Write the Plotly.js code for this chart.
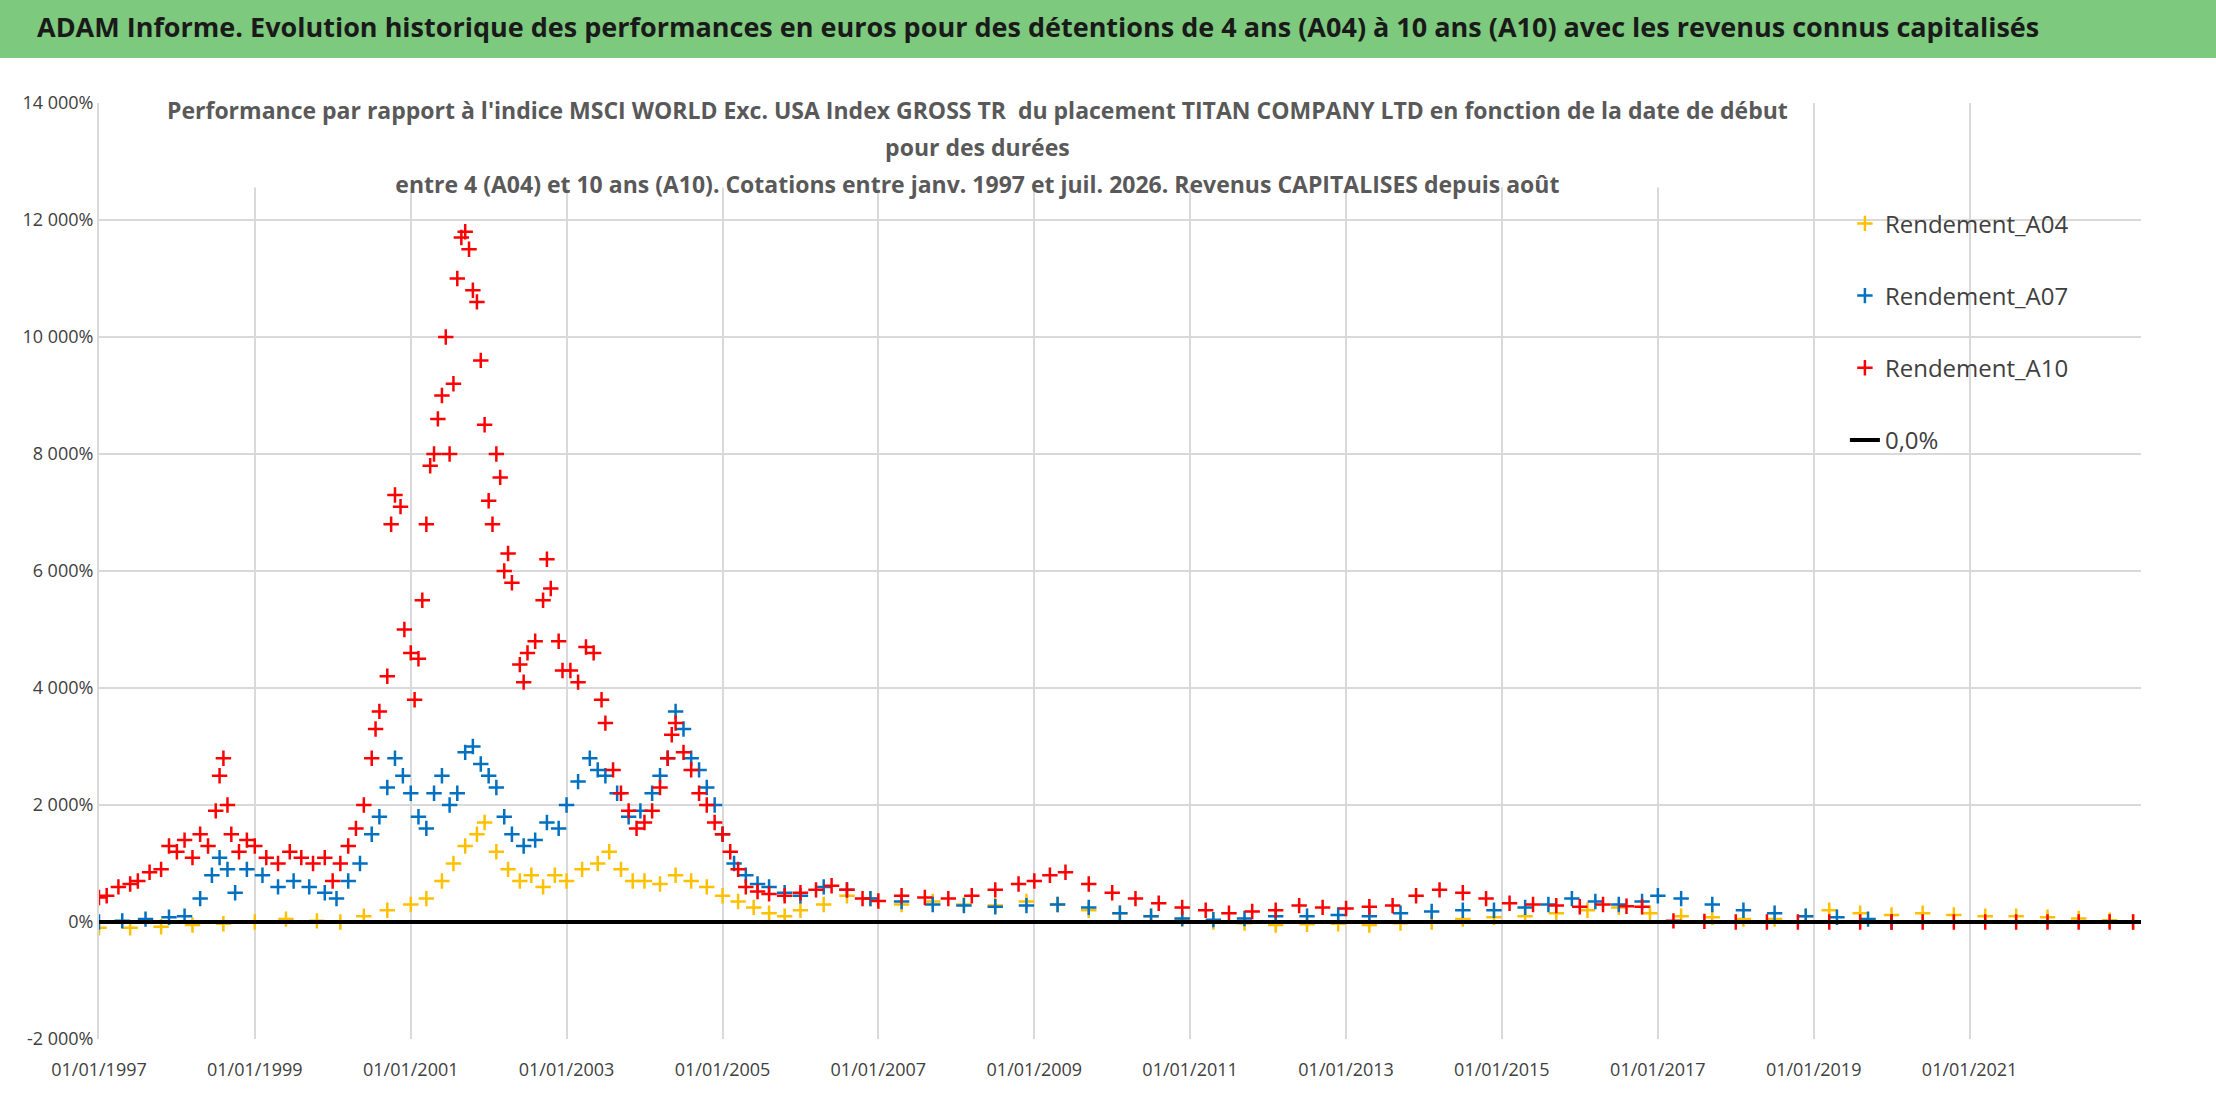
<!DOCTYPE html>
<html>
<head>
<meta charset="utf-8">
<script src="https://cdn.plot.ly/plotly-3.0.1.min.js"></script>
<style>body{margin:0;background:#fff}#chart{width:2216px;height:1102px}</style>
</head>
<body>
<div id="chart"></div>
<script>
// decimal years and performance values (%)
var yearsA10 = [1997.0,1997.1,1997.25,1997.4,1997.5,1997.65,1997.8,1997.9,1998.0,1998.1,1998.2,1998.3,1998.4,1998.5,1998.55,1998.6,1998.65,1998.7,1998.8,1998.9,1999.0,1999.15,1999.3,1999.45,1999.6,1999.75,1999.9,2000.0,2000.1,2000.2,2000.3,2000.4,2000.5,2000.55,2000.6,2000.7,2000.75,2000.8,2000.87,2000.92,2001.0,2001.05,2001.1,2001.15,2001.2,2001.25,2001.3,2001.35,2001.4,2001.45,2001.5,2001.55,2001.6,2001.65,2001.7,2001.75,2001.8,2001.85,2001.9,2001.95,2002.0,2002.05,2002.1,2002.15,2002.2,2002.25,2002.3,2002.4,2002.45,2002.5,2002.6,2002.7,2002.75,2002.8,2002.9,2002.95,2003.05,2003.15,2003.25,2003.35,2003.45,2003.5,2003.6,2003.7,2003.8,2003.9,2004.0,2004.1,2004.2,2004.3,2004.35,2004.4,2004.5,2004.6,2004.7,2004.8,2004.9,2005.0,2005.1,2005.2,2005.3,2005.45,2005.6,2005.8,2006.0,2006.2,2006.4,2006.6,2006.8,2007.0,2007.3,2007.6,2007.9,2008.2,2008.5,2008.8,2009.0,2009.2,2009.4,2009.7,2010.0,2010.3,2010.6,2010.9,2011.2,2011.5,2011.8,2012.1,2012.4,2012.7,2013.0,2013.3,2013.6,2013.9,2014.2,2014.5,2014.8,2015.1,2015.4,2015.7,2016.0,2016.3,2016.6,2016.8,2017.2,2017.6,2018.0,2018.4,2018.8,2019.2,2019.6,2020.0,2020.4,2020.8,2021.2,2021.6,2022.0,2022.4,2022.8,2023.1];
var valsA10 = [420,450,600,650,700,850,900,1300,1200,1400,1100,1500,1300,1900,2500,2800,2000,1500,1200,1400,1300,1100,1000,1200,1100,1000,1100,700,1000,1300,1600,2000,2800,3300,3600,4200,6800,7300,7100,5000,4600,3800,4500,5500,6800,7800,8000,8600,9000,10000,8000,9200,11000,11700,11800,11500,10800,10600,9600,8500,7200,6800,8000,7600,6000,6300,5800,4400,4100,4600,4800,5500,6200,5700,4800,4300,4300,4100,4700,4600,3800,3400,2600,2200,1900,1600,1700,1900,2300,2800,3200,3400,2900,2600,2200,2000,1700,1500,1200,900,600,520,480,450,500,550,620,550,400,360,450,420,400,450,550,650,700,800,850,650,500,400,320,250,200,150,180,200,280,250,230,260,280,450,550,500,400,320,300,280,260,300,270,260,20,10,0,0,0,0,0,0,0,0,0,0,0,0,0,0];

var yearsA07 = [1997.0,1997.3,1997.6,1997.9,1998.1,1998.3,1998.45,1998.55,1998.65,1998.75,1998.9,1999.1,1999.3,1999.5,1999.7,1999.9,2000.05,2000.2,2000.35,2000.5,2000.6,2000.7,2000.8,2000.9,2001.0,2001.1,2001.2,2001.3,2001.4,2001.5,2001.6,2001.7,2001.8,2001.9,2002.0,2002.1,2002.2,2002.3,2002.45,2002.6,2002.75,2002.9,2003.0,2003.15,2003.3,2003.4,2003.5,2003.65,2003.8,2003.95,2004.1,2004.2,2004.3,2004.4,2004.5,2004.6,2004.7,2004.8,2004.9,2005.0,2005.15,2005.3,2005.45,2005.6,2005.8,2006.0,2006.3,2006.6,2006.9,2007.3,2007.7,2008.1,2008.5,2008.9,2009.3,2009.7,2010.1,2010.5,2010.9,2011.3,2011.7,2012.1,2012.5,2012.9,2013.3,2013.7,2014.1,2014.5,2014.9,2015.3,2015.6,2015.9,2016.2,2016.5,2016.8,2017.0,2017.3,2017.7,2018.1,2018.5,2018.9,2019.3,2019.7,2020.0];
var valsA07 = [0,20,50,80,100,400,800,1100,900,500,900,800,600,700,600,500,400,700,1000,1500,1800,2300,2800,2500,2200,1800,1600,2200,2500,2000,2200,2900,3000,2700,2500,2300,1800,1500,1300,1400,1700,1600,2000,2400,2800,2600,2500,2200,1800,1900,2200,2500,2800,3600,3300,2800,2600,2300,2000,1500,1000,800,650,600,500,450,600,550,400,350,300,280,260,280,300,250,150,100,60,40,60,100,100,120,100,150,180,200,200,250,300,400,350,300,350,450,400,300,200,150,100,80,50,0];

var yearsA04 = [1997.0,1997.4,1997.8,1998.2,1998.6,1999.0,1999.4,1999.8,2000.1,2000.4,2000.7,2001.0,2001.2,2001.4,2001.55,2001.7,2001.85,2001.95,2002.1,2002.25,2002.4,2002.55,2002.7,2002.85,2003.0,2003.2,2003.4,2003.55,2003.7,2003.85,2004.0,2004.2,2004.4,2004.6,2004.8,2005.0,2005.2,2005.4,2005.6,2005.8,2006.0,2006.3,2006.6,2006.9,2007.3,2007.7,2008.1,2008.5,2008.9,2009.3,2009.7,2010.1,2010.5,2010.9,2011.3,2011.7,2012.1,2012.5,2012.9,2013.3,2013.7,2014.1,2014.5,2014.9,2015.3,2015.7,2016.1,2016.5,2016.9,2017.3,2017.7,2018.1,2018.5,2018.9,2019.2,2019.6,2020.0,2020.4,2020.8,2021.2,2021.6,2022.0,2022.4,2022.8,2023.1];
var valsA04 = [-100,-100,-80,-50,-30,0,50,20,0,100,200,300,400,700,1000,1300,1500,1700,1200,900,700,800,600,800,700,900,1000,1200,900,700,700,650,800,700,600,450,350,250,150,100,200,300,450,400,300,350,300,280,350,300,200,150,100,50,0,-20,-50,-40,-30,-50,-20,0,50,80,100,150,200,250,150,100,80,50,50,100,200,150,120,150,120,100,100,80,60,30,0];

var zeroYears = [1997.0, 2023.2];
var zeroVals = [0, 0];

var yTickVals = [-2000,0,2000,4000,6000,8000,10000,12000,14000];
var yTickText = ['-2 000%','0%','2 000%','4 000%','6 000%','8 000%','10 000%','12 000%','14 000%'];
var xTickYears = [1997,1999,2001,2003,2005,2007,2009,2011,2013,2015,2017,2019,2021];

function toDate(y) {
    var yr = Math.floor(y);
    var ms = Date.UTC(yr, 0, 1) + (y - yr) * (Date.UTC(yr + 1, 0, 1) - Date.UTC(yr, 0, 1));
    return new Date(ms).toISOString().slice(0, 10);
}

var xTickVals = xTickYears.map(function (y) { return y + '-01-01' });
var xTickText = xTickYears.map(function (y) { return '01/01/' + y });

function series(name, years, vals, color) {
    return {
        x: years.map(toDate), y: vals, name: name, legendgroup: name, type: 'scatter', mode: 'markers',
        marker: {symbol: 'cross-thin', size: 11, color: color, line: {color: color, width: 2.5}}
    };
}

var traces = [
    series('Rendement_A04', yearsA04, valsA04, '#FFC000'),
    series('Rendement_A07', yearsA07, valsA07, '#0070C0'),
    series('Rendement_A10', yearsA10, valsA10, '#FF0000'),
    {x: zeroYears.map(toDate), y: zeroVals, name: '0,0%', legendgroup: 'zero', type: 'scatter', mode: 'lines',
     line: {color: '#000000', width: 4}}
];

var layout = {
    width: 2216, height: 1102,
    margin: {l: 99, r: 75, t: 103, b: 63},
    paper_bgcolor: '#fff', plot_bgcolor: '#fff',
    font: {family: 'Open Sans, sans-serif', color: '#595959'},
    showlegend: true,
    legend: {x: 0.855, y: 0.895, xanchor: 'left', yanchor: 'top', font: {size: 24, color: '#404040'},
             tracegroupgap: 38, bgcolor: 'rgba(255,255,255,0)'},
    xaxis: {type: 'date', range: [toDate(1997.0), toDate(2023.2)], tickvals: xTickVals, ticktext: xTickText,
            showgrid: true, gridcolor: '#D9D9D9', gridwidth: 2, zeroline: false, showline: false,
            tickfont: {size: 18, color: '#404040'}, ticks: 'outside', ticklen: 14, tickcolor: 'rgba(0,0,0,0)'},
    yaxis: {range: [-2000, 14000], tickvals: yTickVals, ticktext: yTickText, showgrid: true,
            gridcolor: '#D9D9D9', gridwidth: 2, zeroline: false, showline: true, linecolor: '#D9D9D9',
            linewidth: 2, tickfont: {size: 18, color: '#404040'}, ticks: ''},
    shapes: [
        {type: 'rect', xref: 'paper', yref: 'paper', x0: -0.05, x1: 1.04, y0: 1.048, y1: 1.11,
         fillcolor: '#7DC97D', line: {width: 0}, layer: 'below'}
    ],
    annotations: [
        {xref: 'paper', yref: 'paper', x: 0.46, y: 1.082, xanchor: 'center', yanchor: 'middle', showarrow: false,
         text: 'ADAM Informe. Evolution historique des performances en euros pour des détentions de 4 ans (A04) à 10 ans (A10) avec les revenus connus capitalisés',
         font: {size: 27, color: '#1a1a1a', family: 'Open Sans, sans-serif', weight: 'bold'}},
        {xref: 'paper', yref: 'paper', x: 0.43, y: 1.012, xanchor: 'center', yanchor: 'top', showarrow: false,
         text: "Performance par rapport à l'indice MSCI WORLD Exc. USA Index GROSS TR  du placement TITAN COMPANY LTD en fonction de la date de début<br>pour des durées<br>entre 4 (A04) et 10 ans (A10). Cotations entre janv. 1997 et juil. 2026. Revenus CAPITALISES depuis août",
         font: {size: 23, color: '#595959', weight: 'bold', lineposition: 'none'}, bgcolor: '#fff'}
    ]
};

Plotly.newPlot('chart', traces, layout, {displayModeBar: false}).then(function () {
    // widen the subtitle line spacing like the reference
    var tspans = document.querySelectorAll('.annotation-text-g')[1].querySelectorAll('tspan.line');
    tspans.forEach(function (t, i) { if (i > 0) t.setAttribute('dy', (i * 1.6) + 'em') });
});
</script>
</body>
</html>
